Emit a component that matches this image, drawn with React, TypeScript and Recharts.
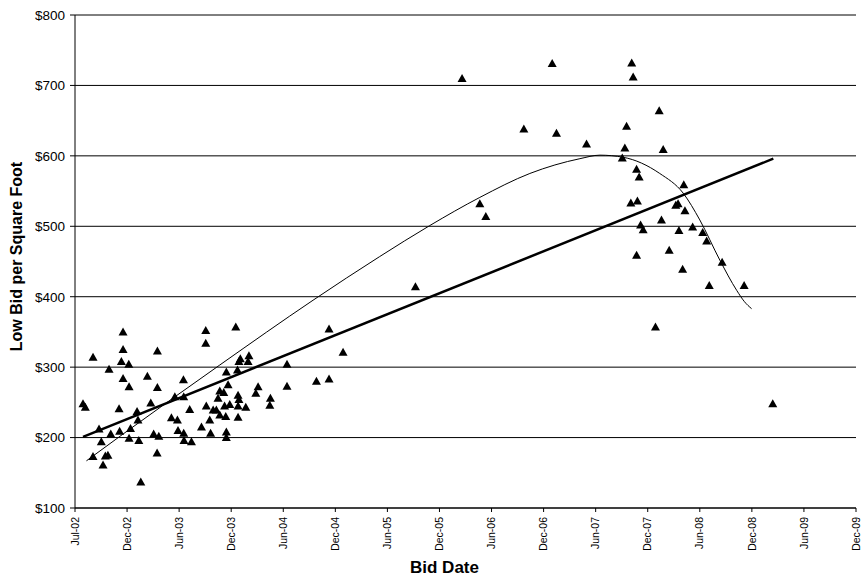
import React from 'react';
import { ComposedChart, Scatter, Line, XAxis, YAxis, CartesianGrid } from 'recharts';

// bid dates, as days after 1 Jul 2002
const bidDays = [
  28, 36, 63, 63, 84, 92, 98, 106, 115, 119, 125, 154, 156, 162, 168, 168, 168, 188, 189, 194,
  189, 217, 220, 223, 230, 253, 265, 275, 288, 288, 293, 287, 337, 349, 358, 360, 379, 380, 380, 381,
  401, 407, 442, 457, 457, 474, 459, 483, 494, 471, 500, 506, 520, 506, 527, 523, 529, 529, 529, 535,
  541, 562, 568, 570, 573, 570, 570, 597, 578, 608, 573, 605, 632, 640, 683, 681, 741, 741, 844, 888,
  888, 937, 1190, 1353, 1415, 1436, 1569, 1668, 1683, 1788, 1913, 1922, 1928, 1946, 1951, 1943, 1966, 1963, 1972, 1977,
  1986, 1963, 2029, 2042, 2050, 2056, 2077, 2100, 2108, 2111, 2124, 2128, 2132, 2159, 2194, 2208, 2217, 2262, 2339, 2439,
];

// low bid, $ per square foot
const lowBids = [
  248, 243, 314, 173, 212, 194, 161, 174, 175, 297, 205, 241, 209, 308, 350, 325, 284, 304, 272, 213,
  199, 237, 225, 196, 137, 287, 249, 205, 323, 271, 202, 178, 228, 258, 225, 210, 282, 258, 206, 196,
  240, 194, 215, 352, 334, 206, 245, 239, 239, 225, 256, 266, 264, 232, 230, 245, 208, 200, 293, 275,
  247, 357, 296, 260, 254, 245, 229, 243, 312, 316, 308, 308, 263, 272, 256, 246, 304, 273, 280, 283,
  354, 321, 414, 710, 532, 514, 638, 731, 632, 617, 597, 611, 642, 732, 712, 533, 536, 581, 570, 502,
  495, 459, 357, 664, 509, 609, 466, 530, 532, 494, 439, 559, 522, 499, 491, 479, 416, 449, 416, 248,
];

const linearTrendDays = [28, 2441];
const linearTrendValues = [201, 596];

const polyTrendDays = [40, 168, 506, 832, 1065, 1240, 1415, 1590, 1765, 1835, 1916, 2044, 2126, 2184, 2254, 2313, 2340, 2365];
const polyTrendValues = [167, 205, 303, 395, 457, 501, 541, 575, 596, 601, 598, 575, 547, 509, 452, 409, 393, 383];

const dateTicks = [0, 182, 364, 546, 728, 910, 1092, 1274, 1456, 1638, 1820, 2002, 2184, 2366, 2548, 2730];
const priceTicks = [100, 200, 300, 400, 500, 600, 700, 800];

const MONTHS = ['Jan', 'Feb', 'Mar', 'Apr', 'May', 'Jun', 'Jul', 'Aug', 'Sep', 'Oct', 'Nov', 'Dec'];
const START = Date.UTC(2002, 6, 1);
const FONT = '"Liberation Sans", Arial, sans-serif';

const formatDay = (d: number) => {
  const dt = new Date(START + d * 86400000);
  return `${MONTHS[dt.getUTCMonth()]}-${String(dt.getUTCFullYear() % 100).padStart(2, '0')}`;
};

const bids = bidDays.map((day, i) => ({ day, value: lowBids[i] }));
const linearTrend = linearTrendDays.map((day, i) => ({ day, value: linearTrendValues[i] }));
const polyTrend = polyTrendDays.map((day, i) => ({ day, value: polyTrendValues[i] }));

const Triangle = (props: any) => {
  const { cx, cy } = props;
  return <path d={`M${cx},${cy - 4.5}L${cx + 4.5},${cy + 3.5}L${cx - 4.5},${cy + 3.5}Z`} fill="#000" />;
};

const DateTick = ({ x, y, payload }: any) => (
  <g transform={`translate(${x},${y})`}>
    <text transform="rotate(-90)" x={-5} y={0} dy="0.35em" textAnchor="end" fontSize={10.5} fontFamily={FONT} fill="#000">
      {formatDay(payload.value)}
    </text>
  </g>
);

const YTitle = ({ viewBox }: any) => {
  const cx = viewBox.x + 16;
  const cy = viewBox.y + viewBox.height / 2 - 5;
  return (
    <text x={cx} y={cy} transform={`rotate(-90, ${cx}, ${cy})`} textAnchor="middle" dominantBaseline="central"
      fontSize={16} fontWeight="bold" fontFamily={FONT} fill="#000">
      Low Bid per Square Foot
    </text>
  );
};

const XTitle = ({ viewBox }: any) => (
  <text x={viewBox.x + viewBox.width / 2 - 21} y={viewBox.y + viewBox.height - 3.5} textAnchor="middle"
    fontSize={17} fontWeight="bold" fontFamily={FONT} fill="#000">
    Bid Date
  </text>
);

export default function App() {
  return (
    <div style={{ position: 'absolute', left: 0, top: 0, background: '#fff' }}>
      <ComposedChart width={862} height={576} margin={{ top: 15, right: 6, bottom: 0, left: 0 }}>
        <CartesianGrid vertical={false} stroke="#000" />
        <XAxis
          type="number"
          dataKey="day"
          domain={[0, 2730]}
          ticks={dateTicks}
          interval={0}
          height={68}
          tickSize={4}
          tickMargin={0}
          stroke="#000"
          tick={<DateTick />}
          label={{ content: XTitle }}
        />
        <YAxis
          type="number"
          dataKey="value"
          domain={[100, 800]}
          ticks={priceTicks}
          interval={0}
          width={75}
          tickSize={5}
          tickMargin={5}
          stroke="#000"
          tickFormatter={(v) => `$${v}`}
          tick={{ fill: '#000', fontSize: 13.5, fontFamily: FONT }}
          label={{ content: YTitle }}
        />
        <Line data={polyTrend} dataKey="value" type="monotone" stroke="#000" strokeWidth={1} dot={false} isAnimationActive={false} />
        <Line data={linearTrend} dataKey="value" type="linear" stroke="#000" strokeWidth={2.5} dot={false} isAnimationActive={false} />
        <Scatter data={bids} dataKey="value" shape={<Triangle />} isAnimationActive={false} />
      </ComposedChart>
    </div>
  );
}
